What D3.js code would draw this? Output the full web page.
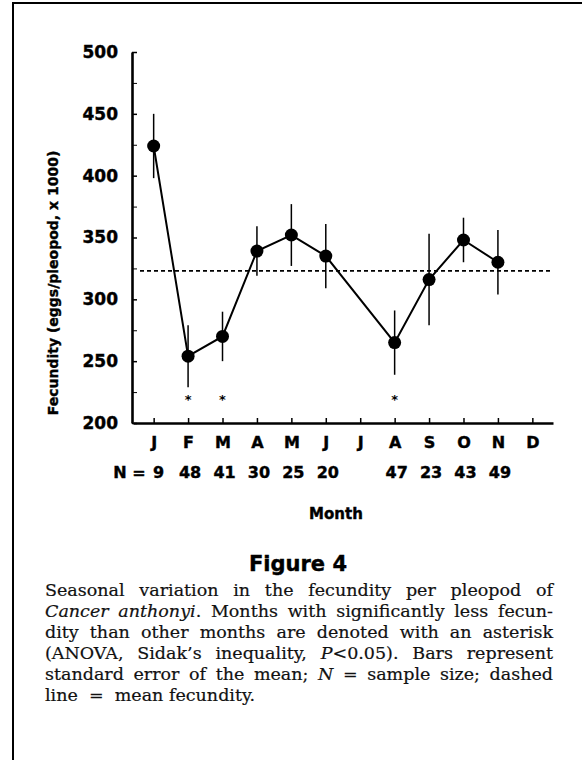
<!DOCTYPE html>
<html>
<head>
<meta charset="utf-8">
<script src="https://cdn.jsdelivr.net/npm/d3@7"></script>
<style>
  body { margin: 0; background: #fff; }
  svg { display: block; }
</style>
</head>
<body>
<svg id="fig"></svg>
<script>
document.addEventListener('DOMContentLoaded', () => {
    // data (fecundity in eggs/pleopod x 1000)
    const months = ["Jan", "Feb", "Mar", "Apr", "May", "Jun", "Jul", "Aug", "Sep", "Oct", "Nov", "Dec"];
    const monthLabels = ["J", "F", "M", "A", "M", "J", "J", "A", "S", "O", "N", "D"];
    const fecundity = [424, 254, 270, 339, 352, 335, null, 265, 316, 348, 330, null];
    const stdErr = [26, 25, 20, 20, 25, 26, null, 26, 37, 18, 26, null];
    const sampleSize = [9, 48, 41, 30, 25, 20, null, 47, 23, 43, 49, null];
    const significant = ["Feb", "Mar", "Aug"];
    const meanFecundity = 323;
    const yTicks = [200, 250, 300, 350, 400, 450, 500];
    const yMinorTicks = [225, 275, 325, 375, 425, 475];

    const W = 582, H = 760;
    const sansBold = "'DejaVu Sans', sans-serif";

    const svg = d3.select("#fig").attr("width", W).attr("height", H);

    // frame of the page
    svg.append("path")
        .attr("d", `M13,${H} V3 H${W}`)
        .attr("fill", "none")
        .attr("stroke", "#000")
        .attr("stroke-width", 2);

    const x = d3.scalePoint().domain(months).range([133, 553]).padding(0.6);
    const y = d3.scaleLinear().domain([200, 500]).range([423, 52]);

    const pts = months.map((m, i) => ({ m, v: fecundity[i], se: stdErr[i], n: sampleSize[i] }))
        .filter(d => d.v !== null);

    // mean dashed line
    svg.append("line")
        .attr("x1", 140).attr("x2", 552)
        .attr("y1", y(meanFecundity)).attr("y2", y(meanFecundity))
        .attr("stroke", "#000")
        .attr("stroke-width", 1.6)
        .attr("stroke-dasharray", "4,3");

    // axes
    const yAxis = svg.append("g")
        .attr("transform", "translate(132,0)")
        .call(d3.axisLeft(y).tickValues(yTicks).tickSize(-5).tickSizeOuter(0).tickPadding(14));
    svg.append("g")
        .attr("transform", "translate(132,0)")
        .call(d3.axisLeft(y).tickValues(yMinorTicks).tickSize(-5).tickSizeOuter(0).tickFormat(""))
        .select(".domain").remove();

    const xAxis = svg.append("g")
        .attr("transform", "translate(0,423)")
        .call(d3.axisBottom(x).tickSize(-5).tickSizeOuter(0).tickPadding(14)
            .tickFormat((d, i) => monthLabels[i]));

    [yAxis, xAxis].forEach(g => {
        g.select(".domain").attr("stroke-width", 2.6);
        g.selectAll(".tick line").attr("stroke-width", 1.5);
    });
    svg.selectAll(".tick text")
        .attr("font-family", sansBold)
        .attr("font-weight", "bold")
        .attr("fill", "#000")
        .attr("stroke", "#000")
        .attr("stroke-width", 0.4);
    yAxis.selectAll(".tick text").attr("font-size", 17);
    xAxis.selectAll(".tick text").attr("font-size", 16);

    // error bars
    svg.selectAll(".err")
        .data(pts)
        .enter()
        .append("line")
        .attr("class", "err")
        .attr("x1", d => x(d.m)).attr("x2", d => x(d.m))
        .attr("y1", d => y(d.v - d.se)).attr("y2", d => y(d.v + d.se))
        .attr("stroke", "#000")
        .attr("stroke-width", 1.5);

    // connecting line (July has no sample, so June joins August)
    svg.append("path")
        .datum(pts)
        .attr("d", d3.line().x(d => x(d.m)).y(d => y(d.v)))
        .attr("fill", "none")
        .attr("stroke", "#000")
        .attr("stroke-width", 2);

    svg.selectAll(".dot")
        .data(pts)
        .enter()
        .append("circle")
        .attr("class", "dot")
        .attr("cx", d => x(d.m))
        .attr("cy", d => y(d.v))
        .attr("r", 6.5)
        .attr("fill", "#000");

    // asterisks for months with significantly less fecundity
    svg.selectAll(".star")
        .data(significant)
        .enter()
        .append("text")
        .attr("class", "star")
        .attr("x", d => x(d))
        .attr("y", y(222) + 8)
        .attr("text-anchor", "middle")
        .attr("font-family", sansBold)
        .attr("font-weight", "bold")
        .attr("font-size", 13)
        .text("*");

    // sample sizes
    const boldText = sel => sel
        .attr("font-family", sansBold)
        .attr("font-weight", "bold")
        .attr("stroke", "#000")
        .attr("stroke-width", 0.4);

    svg.append("text")
        .attr("x", x("Jan") - 8)
        .attr("y", 478)
        .attr("text-anchor", "end")
        .attr("font-size", 16)
        .call(boldText)
        .text("N =");

    svg.selectAll(".nlab")
        .data(pts)
        .enter()
        .append("text")
        .attr("class", "nlab")
        .attr("x", d => x(d.m) + (d.m === "Jan" ? 5 : 2))
        .attr("y", 478)
        .attr("text-anchor", "middle")
        .attr("font-size", 16)
        .call(boldText)
        .text(d => d.n);

    // axis titles
    svg.append("text")
        .attr("x", 336).attr("y", 519)
        .attr("text-anchor", "middle")
        .attr("font-size", 15)
        .call(boldText)
        .text("Month");

    svg.append("text")
        .attr("transform", "translate(58,283) rotate(-90)")
        .attr("text-anchor", "middle")
        .attr("font-size", 14)
        .call(boldText)
        .text("Fecundity (eggs/pleopod, x 1000)");

    // caption
    svg.append("text")
        .attr("x", 298).attr("y", 571)
        .attr("text-anchor", "middle")
        .attr("font-size", 21)
        .call(boldText)
        .text("Figure 4");

    const captionLines = [
        [["Seasonal variation in the fecundity per pleopod of", false]],
        [["Cancer anthonyi", true], [". Months with significantly less fecun-", false]],
        [["dity than other months are denoted with an asterisk", false]],
        [["(ANOVA, Sidak\u2019s inequality, ", false], ["P", true], ["<0.05). Bars represent", false]],
        [["standard error of the mean; ", false], ["N", true], [" = sample size; dashed", false]],
        [["line  =  mean fecundity.", false]]
    ];
    const capLeft = 45, capWidth = 508;

    captionLines.forEach((parts, i) => {
        const t = svg.append("text")
            .attr("x", capLeft)
            .attr("y", 596 + i * 21)
            .attr("font-family", "'DejaVu Serif', serif")
            .attr("font-size", 17.5)
            .attr("fill", "#111")
            .attr("stroke", "#111")
            .attr("stroke-width", 0.2)
            .style("white-space", "pre");
        parts.forEach(([s, it]) => {
            t.append("tspan").attr("font-style", it ? "italic" : "normal").text(s);
        });
        if (i < captionLines.length - 1) {
            const full = parts.map(p => p[0]).join("");
            const spaces = (full.match(/ /g) || []).length;
            const len = t.node().getComputedTextLength();
            t.attr("word-spacing", (capWidth - len) / spaces);
        }
    });
});
</script>
</body>
</html>
